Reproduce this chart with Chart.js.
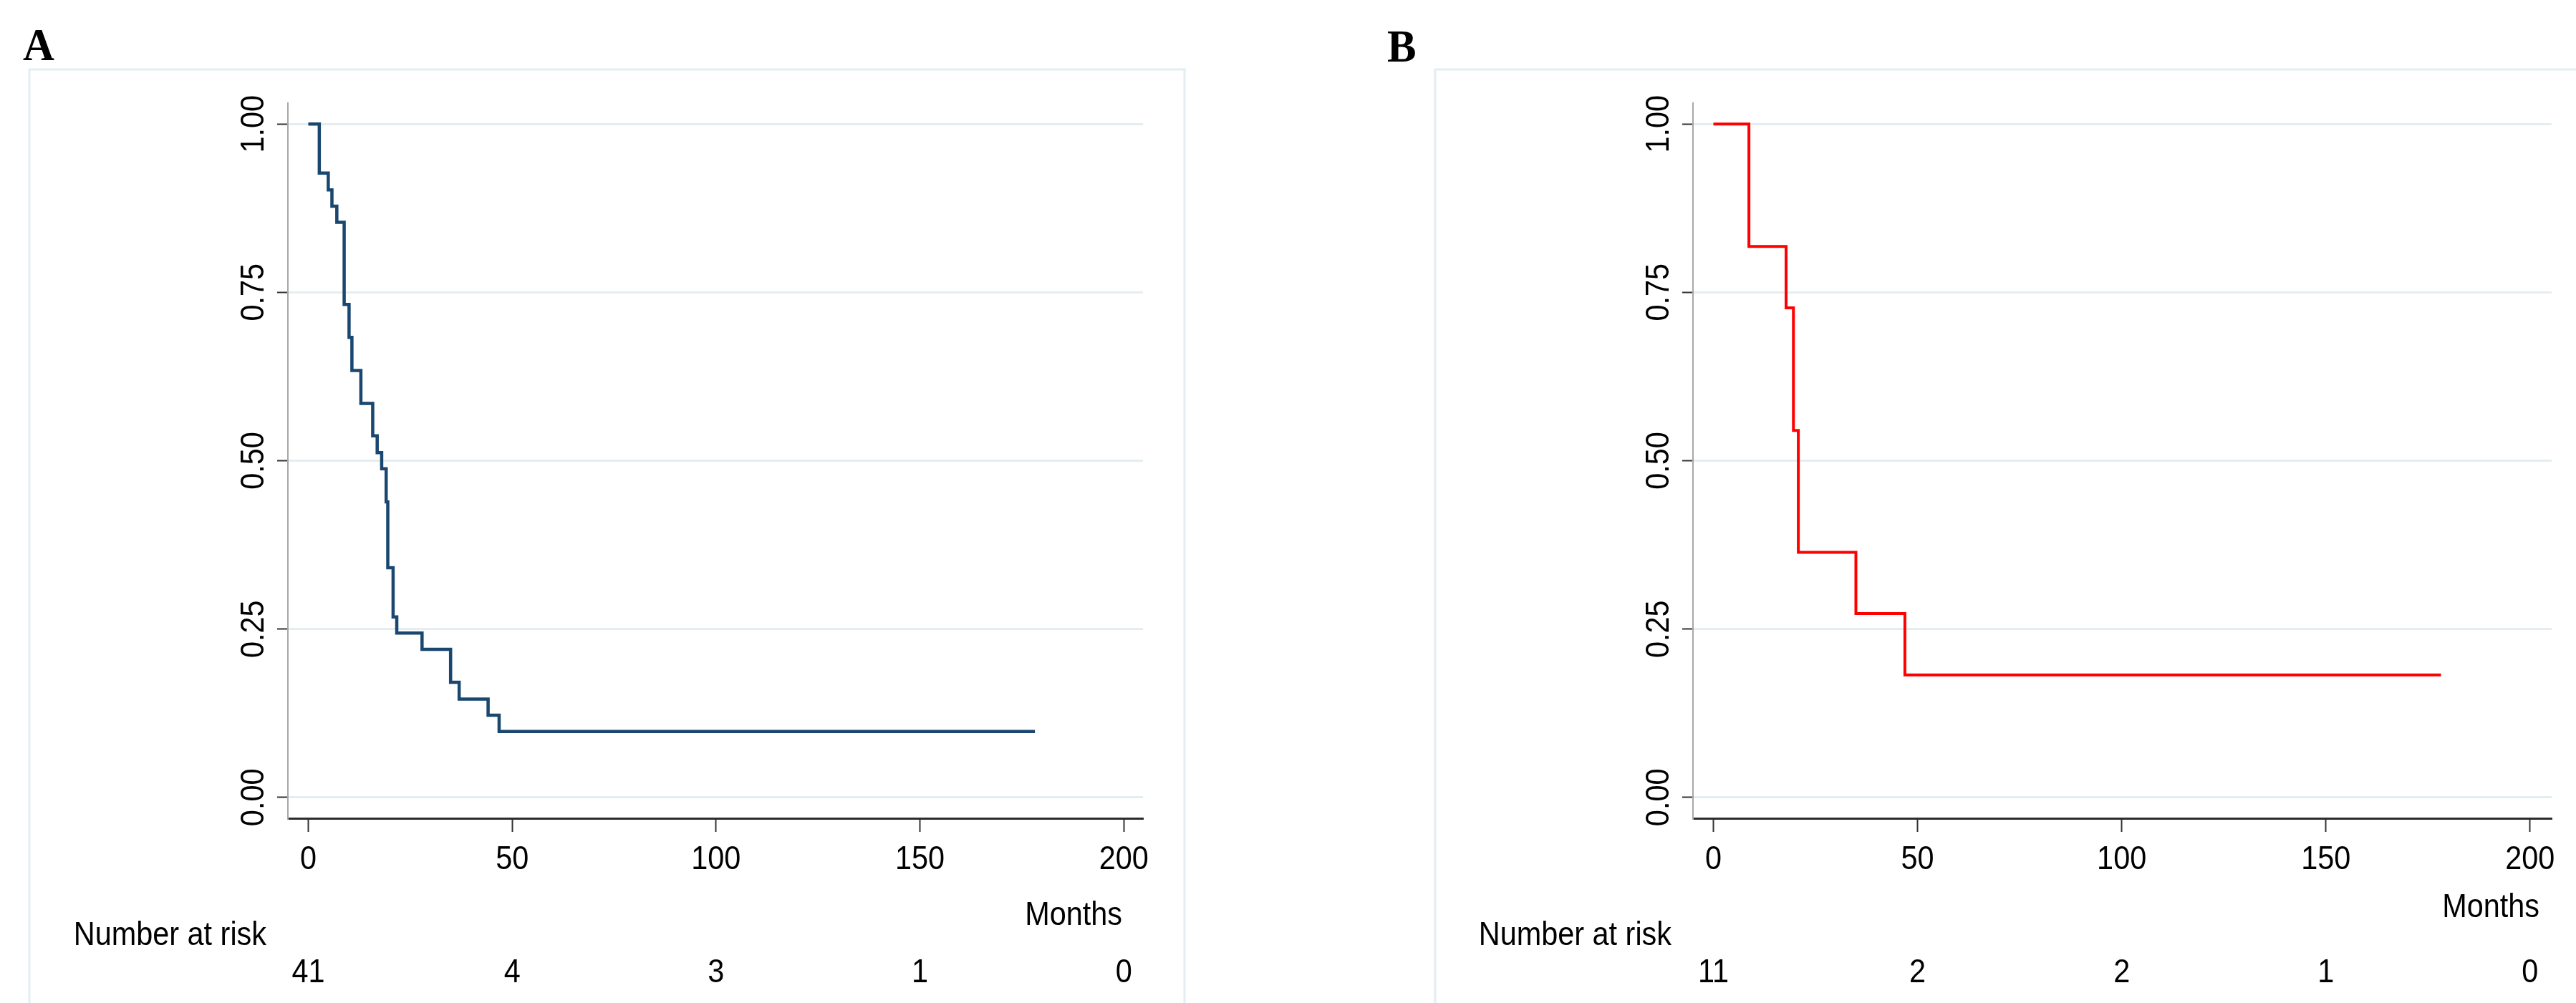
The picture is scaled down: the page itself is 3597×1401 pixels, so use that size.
<!DOCTYPE html>
<html>
<head>
<meta charset="utf-8">
<title>Kaplan-Meier A / B</title>
<script src="https://cdn.jsdelivr.net/npm/chart.js@4.4.1/dist/chart.umd.min.js"></script>
<style>
  html, body { margin: 0; padding: 0; background: #fff; }
  body { width: 3597px; height: 1401px; position: relative; overflow: hidden; }
  canvas { position: absolute; top: 0; }
</style>
</head>
<body>
<canvas id="chartA" width="1798" height="1401" style="left:0px;width:1798px;height:1401px"></canvas>
<canvas id="chartB" width="1799" height="1401" style="left:1798px;width:1799px;height:1401px"></canvas>
<script>
// axis ticks
const monthTicks = [0, 50, 100, 150, 200];
const survTicks = [0, 0.25, 0.5, 0.75, 1];

// panel A: months and survival probability
const timesA = [0, 2.7, 4.9, 5.8, 7.0, 8.8, 10.0, 10.7, 12.9, 15.8, 16.9, 18.0, 19.1, 19.5, 20.8, 21.7, 27.9, 34.9, 37.0, 44.1, 46.8, 178.2];
const survA = [1, 0.927, 0.902, 0.878, 0.854, 0.732, 0.683, 0.634, 0.585, 0.537, 0.512, 0.488, 0.439, 0.341, 0.268, 0.244, 0.220, 0.171, 0.146, 0.122, 0.098, 0.098];

// panel B
const timesB = [0, 8.7, 17.8, 19.6, 20.8, 34.9, 46.9, 178.2];
const survB = [1, 0.818, 0.727, 0.545, 0.364, 0.273, 0.182, 0.182];

// number at risk table
const riskTimes = [0, 50, 100, 150, 200];
const riskA = [41, 4, 3, 1, 0];
const riskB = [11, 2, 2, 1, 0];

const FONT = '"Liberation Sans", Arial, sans-serif';
const TXT = 46;      // label size
const SQUEEZE = 0.9; // the original text is a bit narrower than Arial

function drawText(ctx, str, x, y, opt) {
    ctx.save();
    ctx.translate(x, y);
    if (opt.rotate) ctx.rotate(opt.rotate);
    ctx.scale(opt.sx || 1, 1);
    ctx.font = opt.font;
    ctx.textAlign = opt.align || 'center';
    ctx.textBaseline = 'alphabetic';
    ctx.fillStyle = opt.color || '#000';
    ctx.fillText(str, 0, opt.dy || 0);
    ctx.restore();
}

// Function to build one survival panel
function makePanel(canvasId, times, surv, risk, color, width, layout) {
    const ctx = document.getElementById(canvasId).getContext('2d');

    const points = times.map((t, i) => ({ x: t, y: surv[i] }));

    const panelText = {
        id: 'panelText',
        beforeDraw(chart) {
            const c = chart.ctx;
            c.save();
            c.fillStyle = '#fff';
            c.fillRect(0, 0, chart.width, chart.height);
            // light frame around the graph region
            c.strokeStyle = '#e3eef2';
            c.lineWidth = 3;
            c.strokeRect(layout.frameLeft, 97, layout.frameRight - layout.frameLeft, 1400);
            c.restore();
            drawText(c, layout.letter, layout.letterX, layout.letterY, {
                font: 'bold 64px "Liberation Serif", "Times New Roman", serif', align: 'left', sx: 0.95
            });
        },
        afterDraw(chart) {
            const c = chart.ctx;
            const xs = chart.scales.x;
            const ys = chart.scales.y;
            const area = chart.chartArea;
            const font = TXT + 'px ' + FONT;
            const capHalf = TXT * 0.358;

            // y tick labels, rotated
            survTicks.forEach(v => {
                drawText(c, v.toFixed(2), area.left - 50, ys.getPixelForValue(v), {
                    font: font, rotate: -Math.PI / 2, sx: SQUEEZE, dy: capHalf
                });
            });
            // x tick labels
            monthTicks.forEach(v => {
                drawText(c, String(v), xs.getPixelForValue(v), 1214, { font: font, sx: SQUEEZE });
            });
            // axis title
            drawText(c, 'Months', layout.monthsRight, layout.monthsY, { font: font, align: 'right', sx: SQUEEZE });
            // number at risk
            drawText(c, 'Number at risk', area.left - 30, 1320, { font: font, align: 'right', sx: SQUEEZE });
            riskTimes.forEach((t, i) => {
                drawText(c, String(risk[i]), xs.getPixelForValue(t), 1372, { font: font, sx: SQUEEZE });
            });
        }
    };

    return new Chart(ctx, {
        type: 'line',
        data: {
            datasets: [{
                data: points,
                borderColor: color,
                borderWidth: width,
                stepped: 'before',
                pointRadius: 0,
                fill: false,
                borderJoinStyle: 'miter',
                borderCapStyle: 'butt'
            }]
        },
        options: {
            responsive: false,
            animation: false,
            devicePixelRatio: 1,
            events: [],
            layout: { padding: { left: 0, right: layout.padRight, top: 144, bottom: 0 } },
            plugins: { legend: { display: false }, tooltip: { enabled: false } },
            scales: {
                x: {
                    type: 'linear',
                    min: -5,
                    max: layout.xMax,
                    afterBuildTicks: s => { s.ticks = monthTicks.map(v => ({ value: v })); },
                    afterFit: s => { s.height = 1401 - 1143; },
                    ticks: { display: false },
                    grid: { drawOnChartArea: false, tickLength: 19, tickWidth: 2, tickColor: '#333' },
                    border: { color: '#2b2b2b', width: 3 }
                },
                y: {
                    type: 'linear',
                    min: -0.031,
                    max: 1.031,
                    afterBuildTicks: s => { s.ticks = survTicks.map(v => ({ value: v })); },
                    afterFit: s => { s.width = layout.plotLeft; },
                    ticks: { display: false },
                    grid: { color: '#e4eef1', lineWidth: 3, tickLength: 15, tickWidth: 2, tickColor: '#333' },
                    border: { color: '#a8a8a8', width: 2 }
                }
            }
        },
        plugins: [panelText]
    });
}

makePanel('chartA', timesA, survA, riskA, '#1a476f', 4.5, {
    plotLeft: 402, padRight: 202, xMax: 204.7,
    frameLeft: 41, frameRight: 1654,
    letter: 'A', letterX: 32, letterY: 84,
    monthsRight: 1567, monthsY: 1292
});

makePanel('chartB', timesB, survB, riskB, '#ff0000', 4, {
    plotLeft: 566, padRight: 34, xMax: 205.3,
    frameLeft: 206, frameRight: 1900,
    letter: 'B', letterX: 139, letterY: 86,
    monthsRight: 1748, monthsY: 1281
});
</script>
</body>
</html>
